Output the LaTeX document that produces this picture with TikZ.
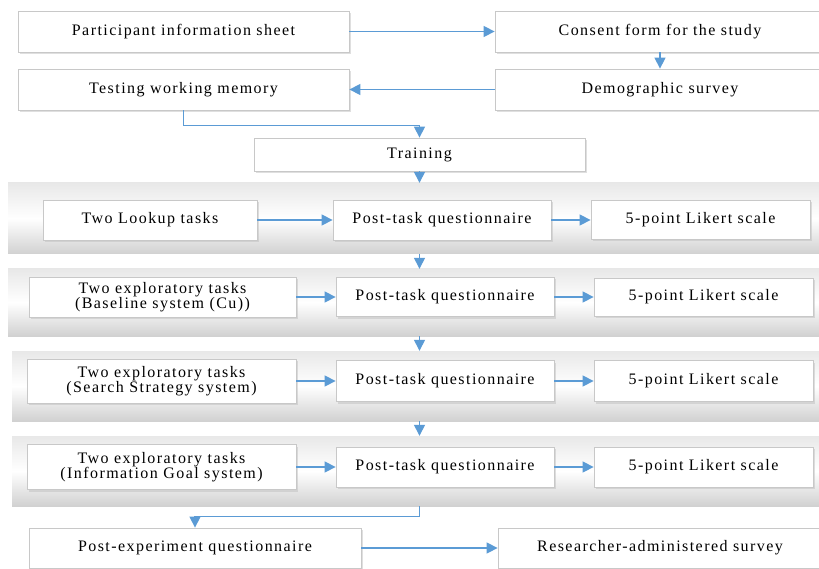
\documentclass[tikz,border=0pt]{standalone}
\usepackage{fontspec}
\setmainfont{Liberation Serif}[LetterSpace=9]
\usetikzlibrary{arrows.meta,shadows}
\definecolor{arrowblue}{HTML}{5B9BD5}
\definecolor{boxline}{HTML}{C8C8C8}
\begin{document}
\begin{tikzpicture}
[x = 1pt,
y = -1pt,
box/.style = {draw=boxline, line width=0.8pt, fill=white, inner sep=0pt, align=center,
  font=\fontsize{16}{15.5}\selectfont,
  drop shadow={shadow xshift=1.5pt, shadow yshift=-2pt, fill=black!25}},
band/.style = {inner sep=0pt, top color=black!9, bottom color=black!18, middle color=white},
arr/.style = {draw=arrowblue, line width=1.4pt, -{Triangle[length=11pt,width=11pt]}}]
\useasboundingbox (0,0) rectangle (819,569);

\node[band, minimum width=817, minimum height=71] (band1) at (416.5,218.5) {};
\node[band, minimum width=817, minimum height=67] (band2) at (416.5,302.5) {};
\node[band, minimum width=813, minimum height=70] (band3) at (418.5,386) {};
\node[band, minimum width=813, minimum height=70] (band4) at (418.5,471) {};

\node[box, minimum width=331, minimum height=41] (info) at (183.5,31.5) {Participant information sheet};
\node[box, minimum width=330, minimum height=41] (consent) at (660,31.5) {Consent form for the study};
\node[box, minimum width=331, minimum height=41] (memory) at (183.5,89.5) {Testing working memory};
\node[box, minimum width=330, minimum height=41] (demog) at (660,89.5) {Demographic survey};
\node[box, minimum width=331, minimum height=33] (training) at (419.5,154.5) {Training};

\node[box, minimum width=214, minimum height=40] (lookup) at (150,220) {Two Lookup tasks};
\node[box, minimum width=218, minimum height=40] (quest1) at (442,220) {Post-task questionnaire};
\node[box, minimum width=219, minimum height=39] (likert1) at (700.5,220) {5-point Likert scale};

\node[box, minimum width=267, minimum height=40] (baseline) at (162.5,297) {Two exploratory tasks\\(Baseline system (Cu))};
\node[box, minimum width=218, minimum height=39] (quest2) at (445,297) {Post-task questionnaire};
\node[box, minimum width=219, minimum height=38] (likert2) at (703.5,297) {5-point Likert scale};

\node[box, minimum width=269, minimum height=44] (strategy) at (161.5,381) {Two exploratory tasks\\(Search Strategy system)};
\node[box, minimum width=218, minimum height=41] (quest3) at (445,381) {Post-task questionnaire};
\node[box, minimum width=219, minimum height=41] (likert3) at (703.5,381) {5-point Likert scale};

\node[box, minimum width=269, minimum height=45] (goal) at (161.5,467) {Two exploratory tasks\\(Information Goal system)};
\node[box, minimum width=218, minimum height=40] (quest4) at (445,467) {Post-task questionnaire};
\node[box, minimum width=219, minimum height=40] (likert4) at (703.5,467) {5-point Likert scale};

\node[box, minimum width=332, minimum height=40] (postexp) at (195,548) {Post-experiment questionnaire};
\node[box, minimum width=324, minimum height=40] (survey) at (660,548) {Researcher-administered survey};

\draw[arr] (info) -- (consent);
\draw[arr] (consent) -- (demog);
\draw[arr] (demog) -- (memory);
\draw[arr] (memory.south) -- ++(0,15) -| (training.north);
\draw[arr] (training.south) -- (training.south |- band1.north);
\draw[arr] (band1.south -| training) -- (band2.north -| training);
\draw[arr] (band2.south -| training) -- (band3.north -| training);
\draw[arr] (band3.south -| training) -- (band4.north -| training);
\draw[arr] (band4.south -| training) -- ++(0,10) -| (postexp.north);
\draw[arr] (postexp) -- (survey);

\draw[arr] (lookup) -- (quest1);
\draw[arr] (quest1) -- (likert1);
\draw[arr] (baseline) -- (quest2);
\draw[arr] (quest2) -- (likert2);
\draw[arr] (strategy) -- (quest3);
\draw[arr] (quest3) -- (likert3);
\draw[arr] (goal) -- (quest4);
\draw[arr] (quest4) -- (likert4);
\end{tikzpicture}
\end{document}
